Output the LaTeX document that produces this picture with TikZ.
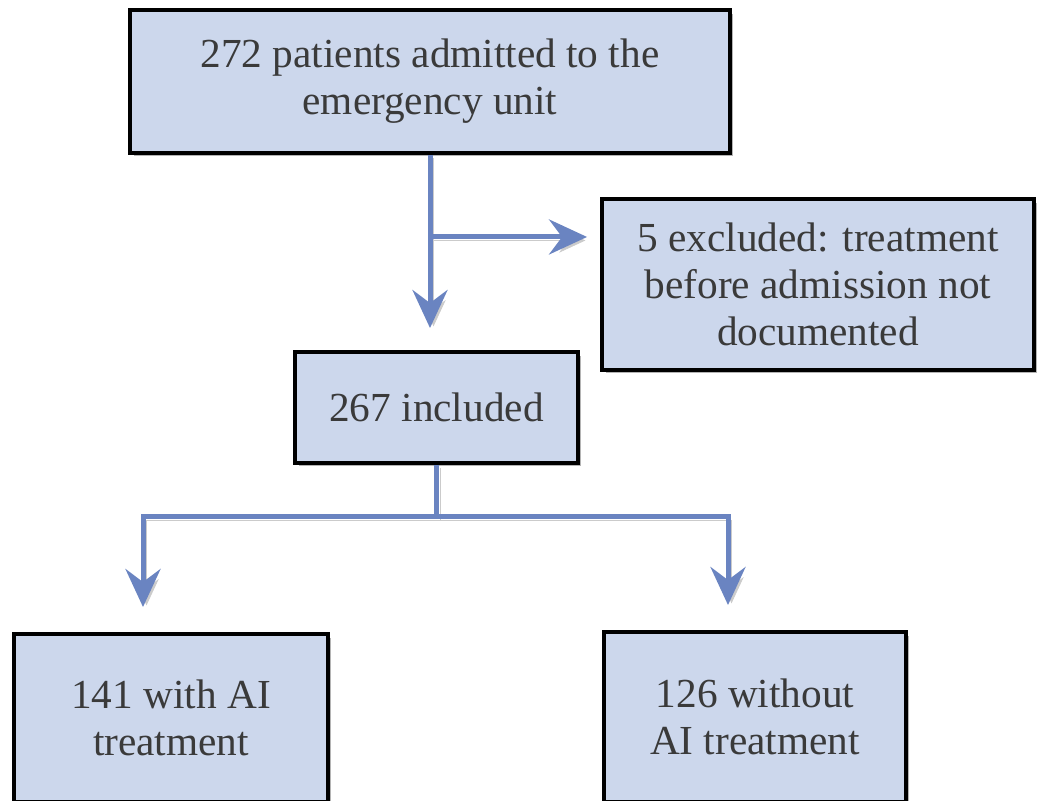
\documentclass[tikz,border=0pt]{standalone}
\usepackage{fontspec}
\setmainfont{Liberation Serif}
\usepackage{xcolor}
\usetikzlibrary{arrows.meta,positioning,shadows}
\definecolor{fcFill}{HTML}{CCD7EC}
\definecolor{fcInk}{HTML}{3A3A3A}
\definecolor{fcArrow}{HTML}{6A84C1}
\definecolor{fcShade}{HTML}{B4B4B4}
\tikzset{
  fc diagram/.style={font=\fontsize{23.5}{26.8}\selectfont, text=fcInk,
    x=0.02cm, y=-0.02cm},
  fc box/.style={draw=black, fill=fcFill, line width=0.08cm, align=center,
    inner sep=0pt,
    drop shadow={shadow xshift=0.07cm, shadow yshift=-0.07cm, fill=fcShade, opacity=1}},
  fc line/.style={draw=fcArrow, line width=0.1cm,
    preaction={draw=fcShade!70, transform canvas={shift={(0.07cm,-0.07cm)}}}},
  fc arrow/.style={fc line, -{Stealth[length=0.76cm,width=0.7cm,inset=0.26cm]}}
}

\begin{document}
\begin{tikzpicture}[fc diagram]
\useasboundingbox (0,0) rectangle (1039,801);
\node[fc box, minimum width=12cm, minimum height=2.86cm] (admitted) at (430,81.5)
  {272 patients admitted to the\\emergency unit};
\node[fc box, minimum width=8.64cm, minimum height=3.42cm] (excluded) at (818,284.5)
  {5 excluded: treatment\\before admission not\\documented};
\node[fc box, minimum width=5.66cm, minimum height=2.22cm] (included) at (436.5,407.5)
  {267 included};
\node[fc box, minimum width=6.28cm, minimum height=3.36cm] (withAI) at (171,718)
  {141 with AI\\treatment};
\node[fc box, minimum width=6.04cm, minimum height=3.4cm] (withoutAI) at (755,717)
  {126 without\\AI treatment};

% exclusion branch
\coordinate[below=1.64cm of admitted.south] (split);
\draw[fc arrow, shorten >=0.44cm] (admitted.south) -- (admitted.south |- included.north);
\draw[fc arrow, shorten >=0.26cm] (split) -- (split -| excluded.west);

% two groups
\coordinate[below=1.04cm of included.south] (fork);
\coordinate (leftdrop) at ([xshift=-0.56cm,yshift=0.5cm]withAI.north);
\coordinate (rightdrop) at ([xshift=-0.54cm,yshift=0.5cm]withoutAI.north);
\draw[fc line] (included.south) -- (fork);
\draw[fc arrow] (fork) -| (leftdrop);
\draw[fc arrow] (fork) -| (rightdrop);
\end{tikzpicture}
\end{document}
